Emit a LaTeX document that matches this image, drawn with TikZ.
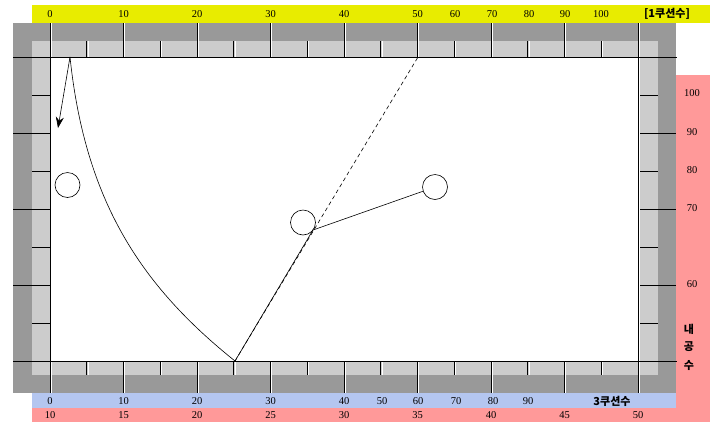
\documentclass[tikz,border=0pt]{standalone}
\usepackage{fontspec}
\setmainfont{Liberation Serif}
\newfontfamily\kr{Noto Sans CJK KR}
\usetikzlibrary{positioning, arrows.meta}

\definecolor{railDark}{RGB}{153,153,153}
\definecolor{railLight}{RGB}{204,204,204}
\definecolor{bandYellow}{RGB}{232,236,0}
\definecolor{bandBlue}{RGB}{180,198,240}
\definecolor{bandPink}{RGB}{255,153,153}

\begin{document}
\begin{tikzpicture}[x=1pt, y=-1pt,
	ball/.style={draw, circle, minimum size=25pt, inner sep=0pt, line width=0.6pt},
	lbl/.style={font=\fontsize{10.5}{11}\selectfont, inner sep=0pt},
	klbl/.style={font=\kr\bfseries\fontsize{11}{12}\selectfont, inner sep=0pt},
	tick/.style={line width=0.8pt},
	glint/.style={white, line width=0.8pt},
	shot/.style={line width=0.6pt}
	]
	\useasboundingbox (0,0) rectangle (720,432);
	\fill[bandYellow] (32,5) rectangle (710,23);
	\fill[bandPink] (676,75) rectangle (710,422);
	\fill[bandPink] (32,408) rectangle (710,422);
	\fill[bandBlue] (32,393) rectangle (676,408);
	\fill[railDark] (13,23) rectangle (676,393);
	\fill[railLight] (32,41) rectangle (658,375);
	\fill[white] (50,57) rectangle (638,361);

	\foreach \i in {0,...,8} {
		\draw[glint] ({51.2+73.5*\i},23) -- ({51.2+73.5*\i},57);
		\draw[glint] ({51.2+73.5*\i},361) -- ({51.2+73.5*\i},393);
		\draw[tick] ({50+73.5*\i},23) -- ({50+73.5*\i},57);
		\draw[tick] ({50+73.5*\i},361) -- ({50+73.5*\i},393);
	}
	\foreach \i in {0,...,7} {
		\draw[glint] ({87.95+73.5*\i},41) -- ({87.95+73.5*\i},57);
		\draw[glint] ({87.95+73.5*\i},361) -- ({87.95+73.5*\i},375);
		\draw[tick] ({86.75+73.5*\i},41) -- ({86.75+73.5*\i},57);
		\draw[tick] ({86.75+73.5*\i},361) -- ({86.75+73.5*\i},375);
	}
	\foreach \j in {1,2,3} {
		\draw[tick] (13,{57+76*\j}) -- (50,{57+76*\j});
		\draw[tick] (638,{57+76*\j}) -- (676,{57+76*\j});
	}
	\foreach \j in {0,...,3} {
		\draw[tick] (32,{95+76*\j}) -- (50,{95+76*\j});
		\draw[tick] (638,{95+76*\j}) -- (658,{95+76*\j});
	}
	\draw[glint] (51.2,23) -- (51.2,393);
	\draw[glint] (639.2,23) -- (639.2,393);
	\draw[tick] (50,23) -- (50,393);
	\draw[tick] (638,23) -- (638,393);
	\draw[tick] (13,57) -- (677,57);
	\draw[tick] (13,361) -- (677,361);

	\foreach \v/\x in {0/50, 10/123.5, 20/197, 30/270.5, 40/344, 50/417.5, 60/455, 70/492, 80/529, 90/565, 100/601}
		\node[lbl] (top\v) at (\x,14) {\v};
	\node[klbl] (firstCushion) at (667,14) {\bfseries[1{\kr 쿠션수}]};
	\foreach \v/\x in {0/50, 10/123.5, 20/197, 30/270.5, 40/344, 50/382, 60/418, 70/456, 80/493, 90/528}
		\node[lbl] (blue\v) at (\x,401) {\v};
	\node[klbl] (thirdCushion) at (612,401) {3쿠션수};
	\foreach \v/\x in {10/50, 15/123.5, 20/197, 25/270.5, 30/344, 35/417.5, 40/491, 45/564.5, 50/638}
		\node[lbl] (pink\v) at (\x,415.5) {\v};
	\foreach \v/\y in {100/93, 90/132, 80/170, 70/208, 60/284}
		\node[lbl] (side\v) at (692,\y) {\v};
	\node[klbl] (sideA) at (689,329) {내};
	\node[klbl] (sideB) at (689,347) {공};
	\node[klbl] (sideC) at (689,366) {수};

	\node[ball] (ballA) at (67.5,185) {};
	\node[ball] (ballB) at (303,222.5) {};
	\node[ball] (ballC) at (435,187) {};

	\coordinate (apex) at (70,57);
	\coordinate (arrowEnd) at (58,128);
	\coordinate (rail3) at (235,361);
	\coordinate (hit) at (313,230);
	\coordinate (aim) at (418,57);

	\draw[shot, -{Stealth[length=11pt, width=8pt]}] (apex) -- (arrowEnd);
	\draw[shot] (apex) .. controls (85,200) and (140,285) .. (rail3);
	\draw[shot] (rail3) -- (hit);
	\draw[shot] (hit) -- (ballC);
	\draw[shot, dash pattern=on 4pt off 3pt] (rail3) -- (aim);
\end{tikzpicture}
\end{document}
